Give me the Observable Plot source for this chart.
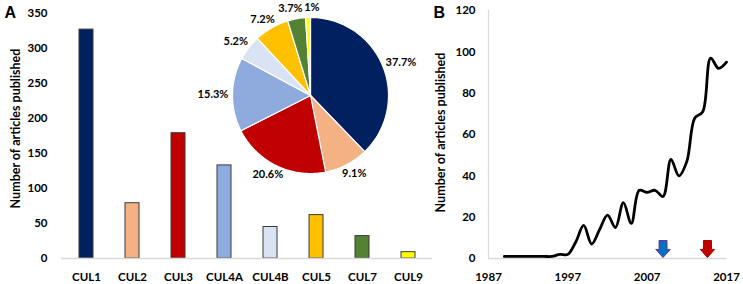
<!DOCTYPE html>
<html><head><meta charset="utf-8">
<script src="https://cdn.jsdelivr.net/npm/d3@7"></script>
<script src="https://cdn.jsdelivr.net/npm/@observablehq/plot@0.6"></script>
<style>
html,body{margin:0;padding:0;background:#fff;}
#fig{position:relative;width:743px;height:284px;overflow:hidden;}
#fig svg{position:absolute;}
</style></head><body><div id="fig"></div>
<script>
// ---- data ----
const cullins = ["CUL1","CUL2","CUL3","CUL4A","CUL4B","CUL5","CUL7","CUL9"];
const articleCounts = [327,79,179,133,45,62,32,9];
const barColors = ["#002060","#F4B183","#C00000","#8FAADC","#DAE3F3","#FFC000","#548235","#FFFF00"];
const sharePercents = [37.7,9.1,20.6,15.3,5.2,7.2,3.7,1];
const shareLabels = ["37.7%","9.1%","20.6%","15.3%","5.2%","7.2%","3.7%","1%"];
const countTicks = [0,50,100,150,200,250,300,350];
const years = d3.range(1989, 2018);
const yearlyCounts = [1,1,1,1,1,1,1,2,2,8,16,7,14,21,15,27,17,33,32,33,30,48,40,47,68,71,97,92,95];
const yearTicks = [1987,1997,2007,2017];
const yearlyCountTicks = [0,20,40,60,80,100,120];
const arrowYears = [2009, 2014.6];
const arrowFill = ["#0070C0","#C00000"];
const arrowStroke = ["#7030A0","#B00000"];
const yLabel = "Number of articles published";

const FONT = "Lato, 'Open Sans', sans-serif";
const fig = document.getElementById("fig");
function place(svg, left, top){ svg.style.left = left+"px"; svg.style.top = top+"px"; fig.appendChild(svg); }

// ---- panel A: bars ----
const bars = cullins.map((c,i)=>({name:c, count:articleCounts[i], color:barColors[i]}));
const barPlot = Plot.plot({
  width: 440, height: 284,
  marginLeft: 61, marginRight: 8, marginTop: 13, marginBottom: 26,
  style: {fontFamily: FONT, fontSize: "11.5px", fontWeight: "bold", color: "#000", background: "transparent", overflow: "visible"},
  color: {type: "identity"},
  x: {domain: cullins, paddingInner: 0.7, paddingOuter: 0.35, tickSize: 0, tickPadding: 14, label: null},
  y: {domain: [0,350], ticks: countTicks, tickSize: 0, tickPadding: 14, label: null},
  marks: [
    Plot.barY(bars, {x:"name", y:"count", fill:"color", stroke:"#3a3a3a", strokeWidth:1}),
    Plot.ruleY([0], {stroke:"#d9d9d9", strokeWidth:1.3}),
    Plot.text([yLabel], {frameAnchor:"left", rotate:-90, textAnchor:"middle", lineAnchor:"middle", dx:-46, dy:-7.5, fontSize:12.5, fontWeight:"bold"}),
    Plot.text(["A"], {frameAnchor:"top-left", textAnchor:"start", lineAnchor:"bottom", dx:-57, dy:4, fontSize:16, fontWeight:"bold", fontFamily:"'Liberation Sans', Arial, sans-serif"})
  ]
});
place(barPlot, 0, 0);

// ---- panel A inset: pie ----
const R = 78, PW = 240, PH = 196;
const arcs = d3.pie().sort(null).value(d=>d)(sharePercents);
const slicePts = [];
arcs.forEach((s,i)=>{
  const n = Math.max(2, Math.ceil((s.endAngle - s.startAngle)/(Math.PI/120)));
  slicePts.push({k:i, x:0, y:0});
  for (let j=0;j<=n;j++){ const a = s.startAngle + (s.endAngle - s.startAngle)*j/n; slicePts.push({k:i, x:Math.sin(a), y:Math.cos(a)}); }
  slicePts.push({k:i, x:0, y:0});
});
// outside-end label placement (in pixels relative to centre, then converted to data units)
const pad = 4, halfH = 6;
const pieLabels = arcs.map((s,i)=>{
  const m = (s.startAngle + s.endAngle)/2;
  const dx = Math.sin(m), dy = Math.cos(m);
  const halfW = shareLabels[i].length * 3.1;
  return {t: shareLabels[i], px: dx*(R+pad) + dx*halfW, py: dy*(R+pad) + dy*halfH, halfW};
});
// simple collision avoidance: push overlapping labels apart horizontally
for (let it=0; it<20; it++){
  for (let a=0; a<pieLabels.length; a++) for (let b=a+1; b<pieLabels.length; b++){
    const A = pieLabels[a], B = pieLabels[b];
    if (Math.abs(A.py - B.py) < 2*halfH + 1){
      const need = A.halfW + B.halfW + 3 - Math.abs(A.px - B.px);
      if (need > 0){ const s = A.px <= B.px ? 1 : -1; A.px -= s*need/2; B.px += s*need/2; }
    }
  }
}
pieLabels.forEach(d=>{ d.x = d.px/R; d.y = d.py/R; });
const piePlot = Plot.plot({
  width: PW, height: PH, margin: 0,
  style: {fontFamily: FONT, fontSize: "11px", fontWeight: "bold", color: "#000", background: "transparent", overflow: "visible"},
  color: {type: "identity"},
  x: {domain: [-PW/2/R, PW/2/R], axis: null},
  y: {domain: [-PH/2/R, PH/2/R], axis: null},
  marks: [
    Plot.line(slicePts, {x:"x", y:"y", z:"k", fill: d=>barColors[d.k], stroke:"#fff", strokeWidth:1.2, strokeLinejoin:"round"}),
    Plot.text(pieLabels, {x:"x", y:"y", text:"t", textAnchor:"middle", lineAnchor:"middle", fontSize:11, fontWeight:"bold"})
  ]
});
place(piePlot, 310 - PW/2, 95 - PH/2);

// ---- panel B: line ----
const arrowSymbol = {
  draw(ctx, size){
    const r = Math.sqrt(size/Math.PI);
    ctx.moveTo(-0.47*r, -2*r);
    ctx.lineTo(0.47*r, -2*r);
    ctx.lineTo(0.47*r, -0.95*r);
    ctx.lineTo(0.85*r, -0.95*r);
    ctx.lineTo(0, 0);
    ctx.lineTo(-0.85*r, -0.95*r);
    ctx.lineTo(-0.47*r, -0.95*r);
    ctx.closePath();
  }
};
const linePlot = Plot.plot({
  width: 323, height: 284,
  marginLeft: 68, marginRight: 17, marginTop: 10, marginBottom: 26,
  style: {fontFamily: FONT, fontSize: "11.5px", fontWeight: "bold", color: "#000", background: "transparent", overflow: "visible"},
  color: {type: "identity"},
  x: {domain: [1987, 2017], ticks: yearTicks, tickFormat: "d", tickSize: 0, tickPadding: 14, label: null},
  y: {domain: [0, 120], ticks: yearlyCountTicks, tickSize: 0, tickPadding: 13, label: null},
  marks: [
    Plot.ruleY([0], {stroke:"#d9d9d9", strokeWidth:1.3}),
    Plot.ruleX([1987], {stroke:"#d9d9d9", strokeWidth:1.3}),
    Plot.line(years, {x: d=>d, y: (d,i)=>yearlyCounts[i], curve:"catmull-rom", stroke:"#000", strokeWidth:2.8}),
    Plot.dot(arrowYears, {x: d=>d, y: 0, dy: -1, symbol: arrowSymbol, r: 8.5, fill: (d,i)=>arrowFill[i], stroke: (d,i)=>arrowStroke[i], strokeWidth: 1}),
    Plot.text([yLabel], {frameAnchor:"left", rotate:-90, textAnchor:"middle", lineAnchor:"middle", dx:-48, dy:-2, fontSize:12.5, fontWeight:"bold"}),
    Plot.text(["B"], {frameAnchor:"top-left", textAnchor:"start", lineAnchor:"bottom", dx:-55, dy:7, fontSize:16, fontWeight:"bold", fontFamily:"'Liberation Sans', Arial, sans-serif"})
  ]
});
place(linePlot, 420, 0);
</script></body></html>
